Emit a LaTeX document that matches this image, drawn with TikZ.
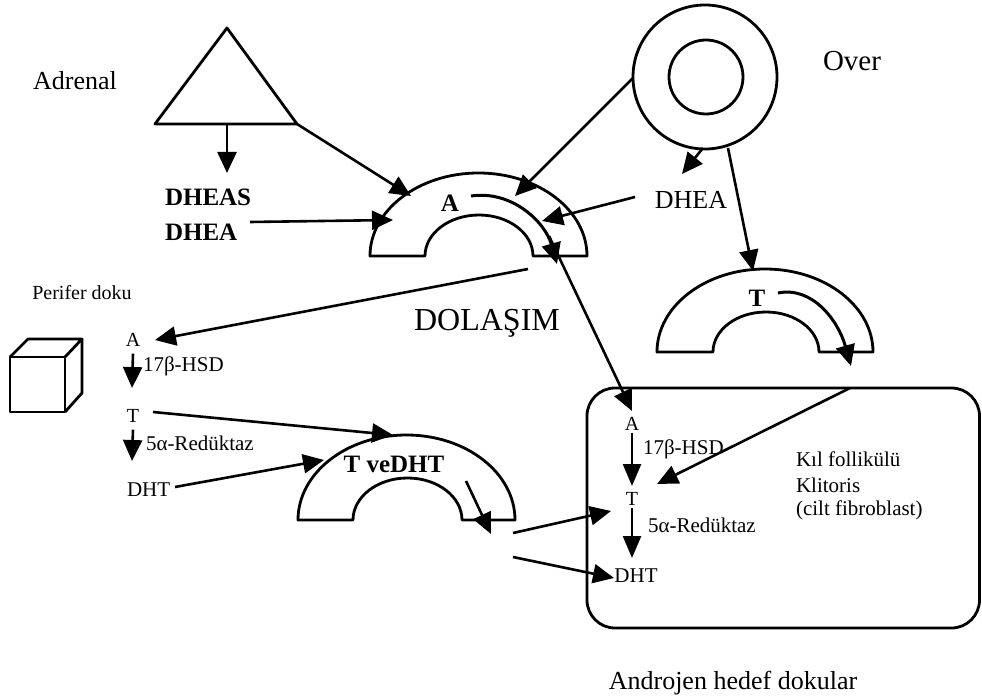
\documentclass[tikz,border=0pt]{standalone}
\usepackage{fontspec}
\setmainfont{Liberation Serif}
\usetikzlibrary{arrows.meta}
\newcommand{\fs}[1]{\fontsize{#1}{#1}\selectfont}
\begin{document}
\begin{tikzpicture}[x=1pt,y=-1pt,
  shapeline/.style={line width=2.8pt,line join=round},
  conn/.style={line width=2.6pt,-{Triangle[length=21pt,width=19pt]}},
  lbl/.style={inner sep=0pt,outer sep=0pt}]
\useasboundingbox (0,0) rectangle (982,700);

% ---------- shapes ----------
% adrenal triangle
\draw[shapeline] (227,28) coordinate (triTop) -- (297,124) coordinate (triR) -- (155,124) coordinate (triL) -- cycle;
\coordinate (triB) at (227,124);
% ovary circles
\draw[shapeline] (705,77) circle[radius=72pt];
\draw[shapeline] (706,77) circle[radius=37pt];
% arch 1 (circulation, A)
\draw[shapeline] (370,256) arc[start angle=180,end angle=0,x radius=108.5pt,y radius=83pt]
  -- (533,256) arc[start angle=0,end angle=180,x radius=54pt,y radius=41pt] -- cycle;
% arch 2 (T)
\draw[shapeline] (657,352) arc[start angle=180,end angle=0,x radius=108pt,y radius=83pt]
  -- (819,352) arc[start angle=0,end angle=180,x radius=53pt,y radius=40pt] -- cycle;
% arch 3 (T ve DHT)
\draw[shapeline] (298,520) arc[start angle=180,end angle=0,x radius=108.5pt,y radius=85pt]
  -- (462,520) arc[start angle=0,end angle=180,x radius=54.5pt,y radius=42pt] -- cycle;
% target tissue box
\draw[shapeline,rounded corners=28pt] (587,388) rectangle (979.5,628);
% peripheral cube
\draw[shapeline] (10,357) rectangle (65,412);
\draw[shapeline] (10,357) -- (28,339) -- (82,339) -- (65,357);
\draw[shapeline] (82,339) -- (82,393) -- (65,412);

% ---------- labels ----------
\node[lbl] (adrenal) at (75,81) {\fs{26}Adrenal};
\node[lbl] (over) at (852,61) {\fs{29}Over};
\node[lbl,anchor=west] (dheas) at (165,197) {\fs{25}\bfseries DHEAS};
\node[lbl,anchor=west] (dheaL) at (165,232) {\fs{25}\bfseries DHEA};
\node[lbl] (dheaR) at (691,200) {\fs{26}DHEA};
\node[lbl] (aC) at (450,203) {\fs{25}\bfseries A};
\node[lbl] (tC) at (757,298) {\fs{25}\bfseries T};
\node[lbl] (dolasim) at (487,323) {\fs{32}DOLAŞIM};
\node[lbl] (perifer) at (82,293) {\fs{20}Perifer doku};
\node[lbl] (pA) at (133,340) {\fs{20}A};
\node[lbl,anchor=west] (pHSD) at (143,366) {\fs{21}17β-HSD};
\node[lbl] (pT) at (133,416) {\fs{20}T};
\node[lbl,anchor=west] (pRed) at (146,443) {\fs{21}5α-Redüktaz};
\node[lbl,anchor=west] (pDHT) at (127,490) {\fs{21}DHT};
\node[lbl] (tdht) at (394,464) {\fs{25}\bfseries T veDHT};
\node[lbl] (bA) at (632,424) {\fs{20}A};
\node[lbl,anchor=west] (bHSD) at (643,449) {\fs{21}17β-HSD};
\node[lbl] (bT) at (632,499) {\fs{20}T};
\node[lbl,anchor=west] (bRed) at (648,525) {\fs{21}5α-Redüktaz};
\node[lbl] (bDHT) at (636,576) {\fs{21}DHT};
\node[lbl,anchor=west] (kil) at (796,459) {\fs{21}Kıl follikülü};
\node[lbl,anchor=west] (klit) at (796,485) {\fs{21}Klitoris};
\node[lbl,anchor=west] (cilt) at (796,510) {\fs{21}(cilt fibroblast)};
\node[lbl] (androjen) at (733,683) {\fs{26}Androjen hedef dokular};

% ---------- connector end points ----------
\coordinate (triArrow) at (227,173);
\coordinate (arch1a) at (411,196);
\coordinate (dheaLend) at (250,222);
\coordinate (arch1b) at (393,220);
\coordinate (ovL) at (633,78);
\coordinate (arch1c) at (515,196);
\coordinate (ovB1) at (703,148);
\coordinate (dheaTip) at (682,174);
\coordinate (dheaRstart) at (635,197);
\coordinate (arch1d) at (542,221);
\coordinate (ovB2) at (728,148);
\coordinate (arch2top) at (753,271);
\coordinate (aArcS) at (471,196);
\coordinate (aArcE) at (557,264);
\coordinate (arch1out) at (549,236);
\coordinate (boxAtip) at (632,411);
\coordinate (arch1left) at (528,269);
\coordinate (pAtip) at (155,340);
\coordinate (tArcS) at (778,293);
\coordinate (tArcE) at (851,366);
\coordinate (boxTop) at (850,388);
\coordinate (boxTtip) at (657,484);
\coordinate (pTstart) at (153,412);
\coordinate (arch3a) at (393,435);
\coordinate (pDHTstart) at (175,487);
\coordinate (arch3b) at (324,460);
\coordinate (in3s) at (466,481);
\coordinate (in3e) at (491,534);
\coordinate (out3a) at (513,533);
\coordinate (boxT2) at (611,511);
\coordinate (out3b) at (513,557);
\coordinate (boxDHT) at (614,578);

% ---------- connectors ----------
\draw[conn] (triB) -- (triArrow);
\draw[conn] (triR) -- (arch1a);
\draw[conn] (dheaLend) -- (arch1b);
\draw[conn] (ovL) -- (arch1c);
\draw[conn] (ovB1) -- (dheaTip);
\draw[conn] (dheaRstart) -- (arch1d);
\draw[conn] (ovB2) -- (arch2top);
\draw[conn,line width=3pt] (aArcS) .. controls (512,190) and (545,222) .. (aArcE);
\draw[conn] (arch1out) -- (boxAtip);
\draw[conn] (arch1left) -- (pAtip);
\draw[conn,line width=3pt] (tArcS) .. controls (812,286) and (838,320) .. (tArcE);
\draw[conn] (boxTop) -- (boxTtip);
\draw[conn] (pA.south) ++(0,7) -- (132,388);
\draw[conn] (pT.south) ++(0,7) -- (132,461);
\draw[conn] (pTstart) -- (arch3a);
\draw[conn] (pDHTstart) -- (arch3b);
\draw[conn] (in3s) -- (in3e);
\draw[conn] (out3a) -- (boxT2);
\draw[conn] (out3b) -- (boxDHT);
\draw[conn,-{Triangle[length=22pt,width=18pt]}] (bA.south) ++(0,2) -- (632,486);
\draw[conn,-{Triangle[length=22pt,width=18pt]}] (bT.south) ++(0,2) -- (632,558);
\end{tikzpicture}
\end{document}
